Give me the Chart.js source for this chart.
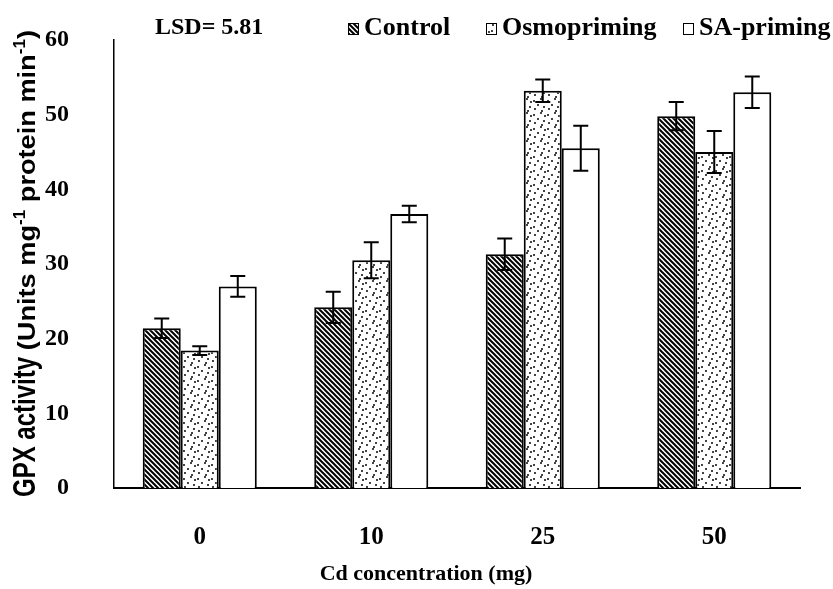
<!DOCTYPE html>
<html>
<head>
<meta charset="utf-8">
<script src="https://cdn.jsdelivr.net/npm/chart.js@4/dist/chart.umd.min.js"></script>
<style>
  html, body { margin: 0; padding: 0; background: #fff; }
  #wrap { width: 833px; height: 589px; }
</style>
</head>
<body>
<div id="wrap"><canvas id="gpx" width="833" height="589"></canvas></div>
<script>
// data
const categories = ['0', '10', '25', '50'];
const seriesNames = ['Control', 'Osmopriming', 'SA-priming'];
const controlVals = [21.4, 24.2, 31.3, 49.8];
const controlErr = [1.3, 2.1, 2.1, 1.9];
const osmoVals = [18.4, 30.5, 53.2, 45.0];
const osmoErr = [0.6, 2.4, 1.5, 2.8];
const saVals = [27.0, 36.7, 45.5, 53.0];
const saErr = [1.4, 1.1, 3.0, 2.1];
const yTicks = [0, 10, 20, 30, 40, 50, 60];
const lsdText = 'LSD= 5.81';
const xTitle = 'Cd concentration (mg)';

const SERIF = '"Liberation Serif", "Times New Roman", serif';
const SANS = '"Liberation Sans", Arial, sans-serif';

// fill patterns
function makeHatch() {
  const c = document.createElement('canvas');
  c.width = 5; c.height = 5;
  const g = c.getContext('2d');
  g.fillStyle = '#fff';
  g.fillRect(0, 0, 5, 5);
  g.strokeStyle = '#000';
  g.lineWidth = 2;
  g.beginPath();
  g.moveTo(-1, -1); g.lineTo(6, 6);
  g.moveTo(-1, 4); g.lineTo(1, 6);
  g.moveTo(4, -1); g.lineTo(6, 1);
  g.stroke();
  return g.createPattern(c, 'repeat');
}
function makeDots() {
  const c = document.createElement('canvas');
  c.width = 14; c.height = 14;
  const g = c.getContext('2d');
  g.fillStyle = '#fff';
  g.fillRect(0, 0, 14, 14);
  g.fillStyle = '#444';
  [[1, 2], [8, 0], [5, 6], [11, 8], [2, 10], [9, 12], [12, 3]].forEach(p => g.fillRect(p[0], p[1], 2, 2));
  return g.createPattern(c, 'repeat');
}
const fills = [makeHatch(), makeDots(), '#ffffff'];

const errorBars = {
  id: 'errorBars',
  afterDatasetsDraw(chart) {
    const ctx = chart.ctx;
    const y = chart.scales.y;
    ctx.save();
    ctx.strokeStyle = '#000';
    ctx.lineWidth = 2;
    chart.data.datasets.forEach((ds, i) => {
      const meta = chart.getDatasetMeta(i);
      meta.data.forEach((bar, j) => {
        const v = ds.data[j], e = ds.errors[j];
        const top = y.getPixelForValue(v + e);
        const bot = y.getPixelForValue(v - e);
        ctx.beginPath();
        ctx.moveTo(bar.x, top); ctx.lineTo(bar.x, bot);
        ctx.moveTo(bar.x - 7.5, top); ctx.lineTo(bar.x + 7.5, top);
        ctx.moveTo(bar.x - 7.5, bot); ctx.lineTo(bar.x + 7.5, bot);
        ctx.stroke();
      });
    });
    ctx.restore();
  }
};

// legend, LSD note, x title and the mixed-font y title
const extras = {
  id: 'extras',
  afterDraw(chart) {
    const ctx = chart.ctx;
    ctx.save();
    ctx.fillStyle = '#000';
    ctx.textBaseline = 'alphabetic';
    ctx.font = 'bold 24px ' + SERIF;
    ctx.fillText(lsdText, 155, 34);

    const legendX = [348, 486, 683];
    ctx.font = 'bold 26px ' + SERIF;
    seriesNames.forEach((name, i) => {
      ctx.fillStyle = fills[i];
      ctx.fillRect(legendX[i], 23, 11, 12);
      ctx.strokeStyle = '#000';
      ctx.lineWidth = 1;
      ctx.strokeRect(legendX[i] + 0.5, 23.5, 10, 11);
      ctx.fillStyle = '#000';
      ctx.fillText(name, legendX[i] + 16, 35);
    });

    ctx.font = 'bold 22px ' + SERIF;
    ctx.textAlign = 'center';
    ctx.fillText(xTitle, 426, 580);
    ctx.textAlign = 'left';

    // rotated y title; glyphs are a bit taller across than along, as in the figure
    ctx.translate(35, 497);
    ctx.rotate(-Math.PI / 2);
    ctx.scale(1, 1.3);
    ctx.font = 'bold 24px ' + SANS;
    ctx.fillText('GPX activity', 0, 0);
    let x = ctx.measureText('GPX activity ').width;
    const parts = [
      { t: '(Units mg', f: 'bold 19px ' + SANS, dy: 0 },
      { t: '-1', f: 'bold 12px ' + SANS, dy: -8 },
      { t: ' protein min', f: 'bold 19px ' + SANS, dy: 0 },
      { t: '-1', f: 'bold 12px ' + SANS, dy: -8 },
      { t: ')', f: 'bold 19px ' + SANS, dy: 0 }
    ];
    let natural = 0;
    parts.forEach(p => { ctx.font = p.f; natural += ctx.measureText(p.t).width; });
    const sx = (497 - 30 - x) / natural;
    ctx.translate(x, 0);
    ctx.scale(sx, 1);
    let px = 0;
    parts.forEach(p => {
      ctx.font = p.f;
      ctx.fillText(p.t, px, p.dy);
      px += ctx.measureText(p.t).width;
    });
    ctx.restore();
  }
};

const mkSet = (i, vals, errs) => ({
  label: seriesNames[i],
  data: vals,
  errors: errs,
  backgroundColor: fills[i],
  borderColor: '#000',
  borderWidth: 2,
  borderSkipped: 'bottom',
  categoryPercentage: 0.665,
  barPercentage: 1.0
});

new Chart(document.getElementById('gpx'), {
  type: 'bar',
  data: {
    labels: categories,
    datasets: [
      mkSet(0, controlVals, controlErr),
      mkSet(1, osmoVals, osmoErr),
      mkSet(2, saVals, saErr)
    ]
  },
  options: {
    responsive: false,
    animation: false,
    layout: { padding: { top: 40, right: 33, left: 0, bottom: 0 } },
    plugins: {
      legend: { display: false },
      tooltip: { enabled: false }
    },
    scales: {
      x: {
        grid: { display: false, drawTicks: false },
        border: { color: '#000', width: 2 },
        ticks: { color: '#000', padding: 35, font: { family: SERIF, size: 25, weight: 'bold' } },
        afterFit(scale) { scale.height = 101; }
      },
      y: {
        min: 0,
        max: 60,
        afterBuildTicks(scale) { scale.ticks = yTicks.map(v => ({ value: v })); },
        grid: { display: false, drawOnChartArea: false, drawTicks: true, tickLength: 9, tickColor: '#000', tickWidth: 1.5 },
        border: { color: '#000', width: 1.5 },
        ticks: { color: '#000', padding: 36, font: { family: SERIF, size: 24, weight: 'bold' } },
        afterFit(scale) {
          scale.width = 114;
          // the label padding would otherwise push the plot top down
          scale.paddingTop = 12;
          scale.paddingBottom = 12;
        }
      }
    }
  },
  plugins: [errorBars, extras]
});
</script>
</body>
</html>
